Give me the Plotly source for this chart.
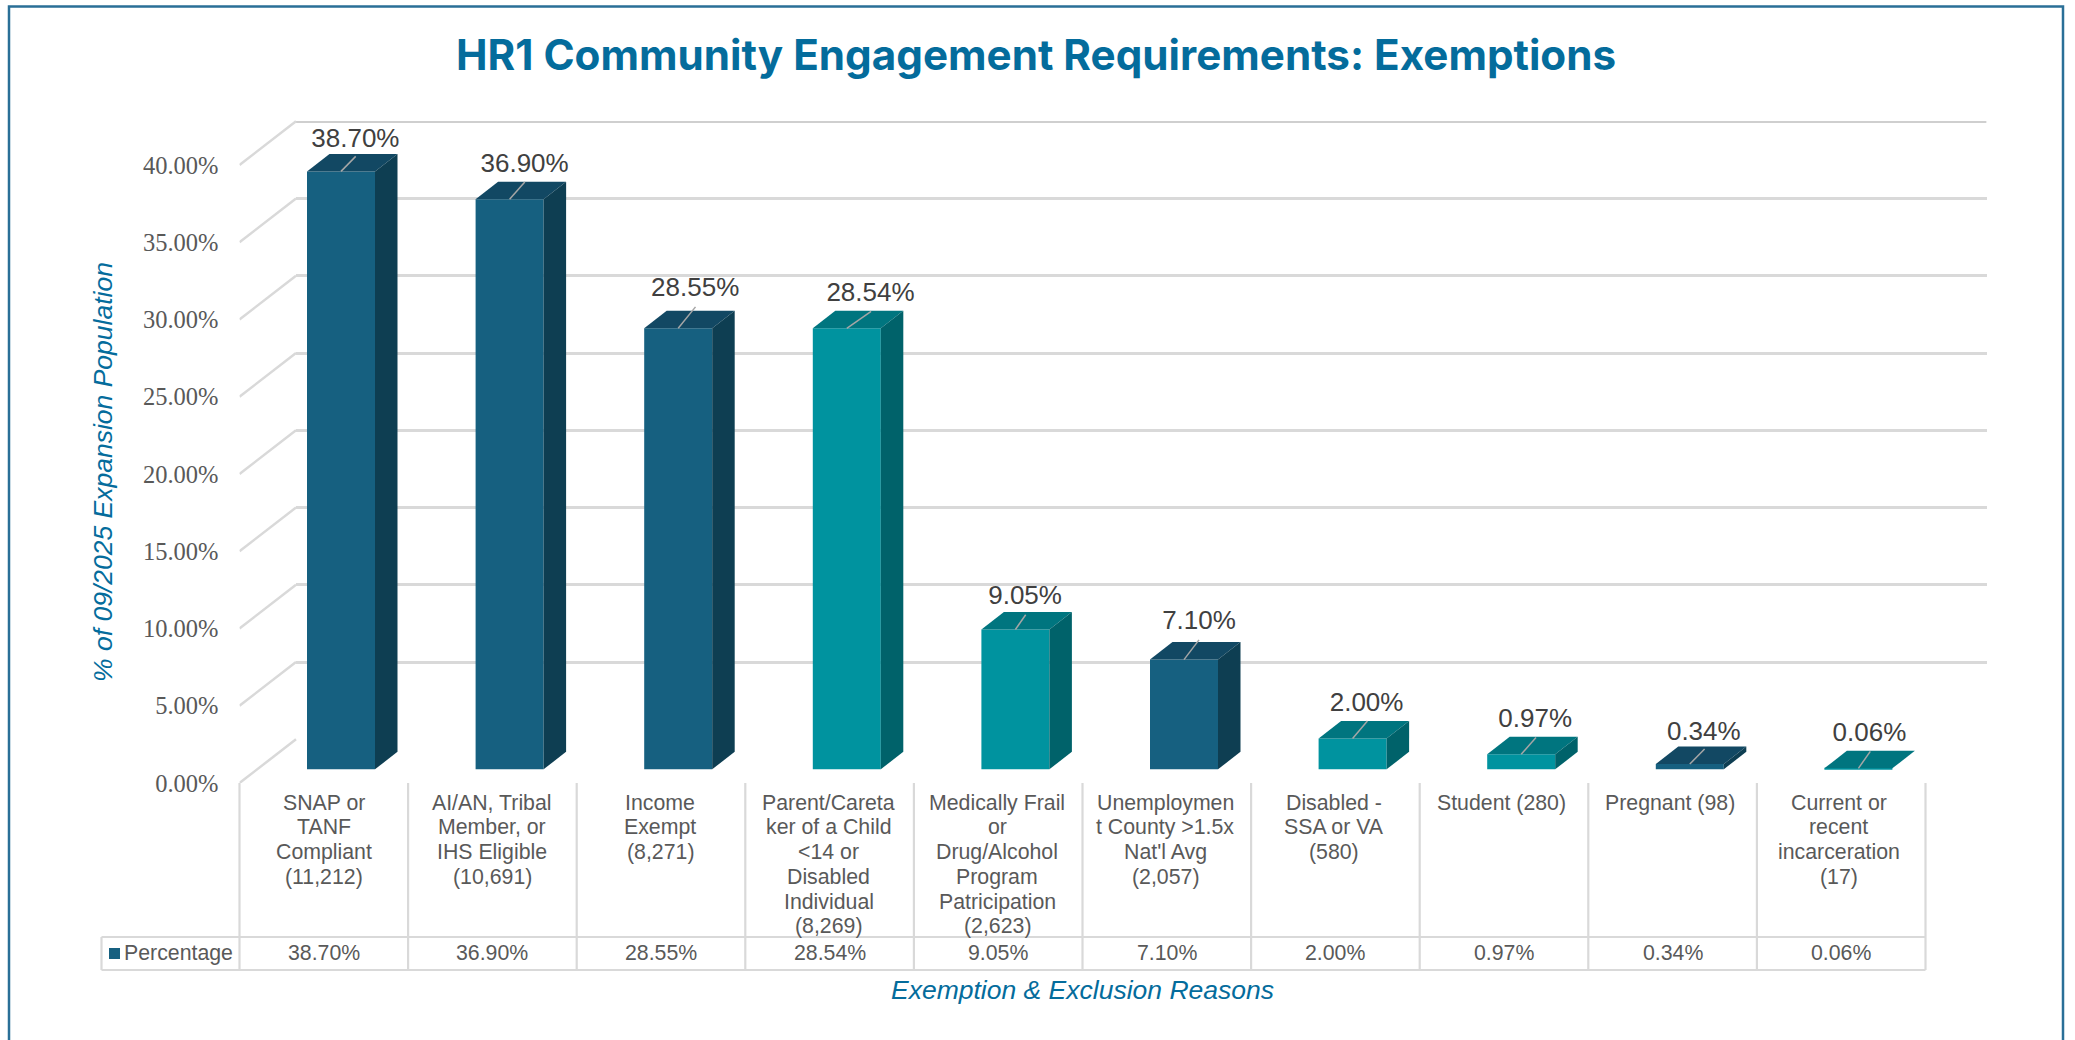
import plotly.graph_objects as go

# Chart data
percentages = [38.70, 36.90, 28.55, 28.54, 9.05, 7.10, 2.00, 0.97, 0.34, 0.06]
category_lines = [
    ["SNAP or", "TANF", "Compliant", "(11,212)"],
    ["AI/AN, Tribal", "Member, or", "IHS Eligible", "(10,691)"],
    ["Income", "Exempt", "(8,271)"],
    ["Parent/Careta", "ker of a Child", "<14 or", "Disabled", "Individual", "(8,269)"],
    ["Medically Frail", "or", "Drug/Alcohol", "Program", "Patricipation", "(2,623)"],
    ["Unemploymen", "t County >1.5x", "Nat'l Avg", "(2,057)"],
    ["Disabled -", "SSA or VA", "(580)"],
    ["Student (280)"],
    ["Pregnant (98)"],
    ["Current or", "recent", "incarceration", "(17)"],
]
palette_keys = ["blue", "blue", "blue", "teal", "teal", "blue", "teal", "teal", "blue", "teal"]
y_ticks = [0, 5, 10, 15, 20, 25, 30, 35, 40]

TITLE = "HR1 Community Engagement Requirements: Exemptions"
Y_TITLE = "% of 09/2025 Expansion Population"
X_TITLE = "Exemption & Exclusion Reasons"
SERIES_NAME = "Percentage"

# Colours
FRONT = {"blue": "#166080", "teal": "#00939F"}
TOP = {"blue": "#124863", "teal": "#00757F"}
SIDE = {"blue": "#0E3E52", "teal": "#00626A"}
GRID = "#D9D9D9"
HEADING = "#046C9C"
FRAME = "#2A6F97"

# Page geometry in pixels
W, H = 2075, 1040
LEFT, RIGHT = 239.5, 1986.6        # plot floor, front-left corner to back-right end
WALL_LEFT = 296.0
Y0_FRONT = 783.0                   # pixel height of 0% at the front of the floor
Y0_BACK = 739.3                    # pixel height of 0% on the back wall
PX_PER_PCT = 15.45
CELL = 168.6                       # category spacing
LABEL_STEP = 168.3                 # spacing of the category captions
TABLE_LEFT, TABLE_RIGHT = 101.5, 239.5 + CELL * 10
ROW_TOP, ROW_BOTTOM = 937.0, 970.0

# Oblique projection of the bars, in pixels
BAR_W = 68.0
BAR_LEFT_OFFSET = -16.8
DEPTH_X, DEPTH_Y = 22.5, 17.5
BAR_FLOOR_LIFT = 13.7

# Hand-placed data labels: offset from the bar's top-front centre, in pixels
label_dx = [14.4, 15.0, 17.0, 23.7, 9.7, 15.0, 14.0, 14.0, 14.0, 11.0]
label_dy = [30.5, 34.0, 39.0, 33.5, 31.5, 37.0, 33.8, 33.4, 31.0, 34.0]
leader_dx = [14.7, 15.2, 17.3, 24.3, 10.3, 15.0, 14.8, 14.8, 14.8, 11.9]
leader_dy = [15.0, 17.3, 21.3, 17.0, 14.7, 19.7, 17.3, 16.7, 15.0, 17.0]


def px(x):
    return x / W


def py(y):
    return 1 - y / H


# Conversions to the category and percent units of the bar axes
def ux(pixels):
    return pixels / CELL


def uy(pixels):
    return pixels / PX_PER_PCT


idx = list(range(len(percentages)))
base = uy(BAR_FLOOR_LIFT)
y2_max = 43.0
x2_range = [ux(LEFT - (LEFT + CELL / 2)), ux(RIGHT - (LEFT + CELL / 2))]

fig = go.Figure()

# Back wall: the dark top rule sits above the axis gridlines
fig.add_trace(go.Scatter(
    x=[0, 1], y=[y_ticks[-1], y_ticks[-1]], xaxis="x", yaxis="y", mode="lines",
    line=dict(color="#BFBFBF", width=3), cliponaxis=False, hoverinfo="skip", showlegend=False,
))

# Floor-to-wall connectors from each front tick
wall_dx = ux(WALL_LEFT - LEFT)
wall_dy = uy(Y0_FRONT - Y0_BACK)
conn_x, conn_y = [], []
for t in y_ticks:
    conn_x += [x2_range[0], x2_range[0] + wall_dx, None]
    conn_y += [t, t + wall_dy, None]
fig.add_trace(go.Scatter(
    x=conn_x, y=conn_y, xaxis="x2", yaxis="y2", mode="lines",
    line=dict(color=GRID, width=2.5), cliponaxis=False, hoverinfo="skip", showlegend=False,
))

# Front faces of the bars
fig.add_trace(go.Bar(
    x=idx, y=percentages, base=base, width=ux(BAR_W), offset=ux(BAR_LEFT_OFFSET),
    xaxis="x2", yaxis="y2", marker=dict(color=[FRONT[k] for k in palette_keys], line=dict(width=0)),
    name=SERIES_NAME, showlegend=False,
))

# Top and side faces, projected from each bar's value
dx, dy, bw, left = ux(DEPTH_X), uy(DEPTH_Y), ux(BAR_W), ux(BAR_LEFT_OFFSET)
for i, v, key in zip(idx, percentages, palette_keys):
    x0, x1 = i + left, i + left + bw
    top = base + v
    fig.add_trace(go.Scatter(
        x=[x0, x1, x1 + dx, x0 + dx, x0], y=[top, top, top + dy, top + dy, top],
        xaxis="x2", yaxis="y2", mode="lines", fill="toself", fillcolor=TOP[key],
        line=dict(width=0, color=TOP[key]), cliponaxis=False, hoverinfo="skip", showlegend=False,
    ))
    fig.add_trace(go.Scatter(
        x=[x1, x1 + dx, x1 + dx, x1, x1], y=[base, base + dy, top + dy, top, base],
        xaxis="x2", yaxis="y2", mode="lines", fill="toself", fillcolor=SIDE[key],
        line=dict(width=0, color=SIDE[key]), cliponaxis=False, hoverinfo="skip", showlegend=False,
    ))

# Leader lines from the bar tops up to the value labels
lead_x, lead_y = [], []
for i, v in zip(idx, percentages):
    cx = i + left + bw / 2
    lead_x += [cx, cx + ux(leader_dx[i]), None]
    lead_y += [base + v, base + v + uy(leader_dy[i]), None]
fig.add_trace(go.Scatter(
    x=lead_x, y=lead_y, xaxis="x2", yaxis="y2", mode="lines",
    line=dict(color="#A6A6A6", width=1.5), cliponaxis=False, hoverinfo="skip", showlegend=False,
))

# Value labels
fig.add_trace(go.Scatter(
    x=[i + left + bw / 2 + ux(label_dx[i]) for i in idx],
    y=[base + v + uy(label_dy[i]) for i, v in zip(idx, percentages)],
    xaxis="x2", yaxis="y2", mode="text", text=[f"{v:.2f}%" for v in percentages],
    textposition="middle center",
    textfont=dict(family="Liberation Sans", size=26, color="#404040"),
    cliponaxis=False, hoverinfo="skip", showlegend=False,
))

shapes = []


def line(x0, y0, x1, y1, color=GRID, width=2.2):
    shapes.append(dict(type="line", xref="paper", yref="paper", x0=px(x0), y0=py(y0), x1=px(x1), y1=py(y1),
                       line=dict(color=color, width=width)))


# Outer frame; its lower edge runs off the page
shapes.append(dict(type="rect", xref="paper", yref="paper", x0=px(9), x1=px(2063), y0=py(1060), y1=py(6.5),
                   line=dict(color=FRAME, width=2.5), fillcolor="rgba(0,0,0,0)", layer="below"))

# Data table grid under the plot
for i in range(len(percentages) + 1):
    line(LEFT + CELL * i, Y0_FRONT, LEFT + CELL * i, ROW_BOTTOM)
line(TABLE_LEFT, ROW_TOP, TABLE_LEFT, ROW_BOTTOM)
line(TABLE_LEFT, ROW_TOP, TABLE_RIGHT, ROW_TOP)
line(TABLE_LEFT, ROW_BOTTOM, TABLE_RIGHT, ROW_BOTTOM)

# Series key in the table's first column
shapes.append(dict(type="rect", xref="paper", yref="paper", x0=px(109), x1=px(120), y0=py(959), y1=py(948),
                   line=dict(width=0), fillcolor=FRONT["blue"]))

annotations = []


def note(x, y, text, size=21.3, color="#595959", xref="paper", xanchor="center", **kw):
    annotations.append(dict(x=x, y=y, text=text, xref=xref, yref="paper", showarrow=False,
                            xanchor=xanchor, yanchor="middle",
                            font=dict(family=kw.pop("family", "Liberation Sans"), size=size, color=color), **kw))


note(px(1036), py(54), f"<b>{TITLE}</b>", size=42.2, color=HEADING, family="Inter")
note(px(103), py(472), f"<i>{Y_TITLE}</i>", size=26.5, color=HEADING, textangle=-90)
note(px(1082), py(990), f"<i>{X_TITLE}</i>", size=26.5, color=HEADING)
note(px(122), py(953), SERIES_NAME, xanchor="left")

LINE_TOP, LINE_STEP = 802.7, 24.7
for i, lines in zip(idx, category_lines):
    for j, text in enumerate(lines):
        note(i * LABEL_STEP / CELL, py(LINE_TOP + LINE_STEP * j), text.replace("<", "&lt;"), xref="x2")
    note(i, py(953), f"{percentages[i]:.2f}%", xref="x2")

fig.update_layout(
    width=W, height=H, margin=dict(l=0, r=0, t=0, b=0, pad=0, autoexpand=False), autosize=False,
    paper_bgcolor="white", plot_bgcolor="rgba(0,0,0,0)", showlegend=False,
    shapes=shapes, annotations=annotations,
    # Back wall axes carry the gridlines
    xaxis=dict(domain=[px(WALL_LEFT), px(RIGHT)], range=[0, 1], anchor="y", visible=False),
    yaxis=dict(
        domain=[py(Y0_BACK), py(Y0_BACK - y_ticks[-1] * PX_PER_PCT)], range=[y_ticks[0], y_ticks[-1]], anchor="x",
        tickmode="array", tickvals=y_ticks, showticklabels=False, ticks="",
        showgrid=True, gridcolor=GRID, gridwidth=3, zeroline=False, showline=False,
    ),
    # Front axes carry the bars and the tick labels
    xaxis2=dict(domain=[px(LEFT), px(RIGHT)], range=x2_range, anchor="y2", showgrid=False, zeroline=False,
                showline=False, showticklabels=False, ticks=""),
    yaxis2=dict(
        domain=[py(Y0_FRONT), py(Y0_FRONT - y2_max * PX_PER_PCT)], range=[0, y2_max], anchor="x2",
        tickmode="linear", tick0=y_ticks[0], dtick=y_ticks[1] - y_ticks[0], tickformat=".2f", ticksuffix="%",
        showticksuffix="all",
        tickfont=dict(family="Liberation Serif, Times New Roman, serif", size=24.5, color="#595959"),
        ticks="", ticklabelstandoff=20, showgrid=False, zeroline=False, showline=False,
    ),
)

fig.write_html("out.html", config={"displayModeBar": False})
